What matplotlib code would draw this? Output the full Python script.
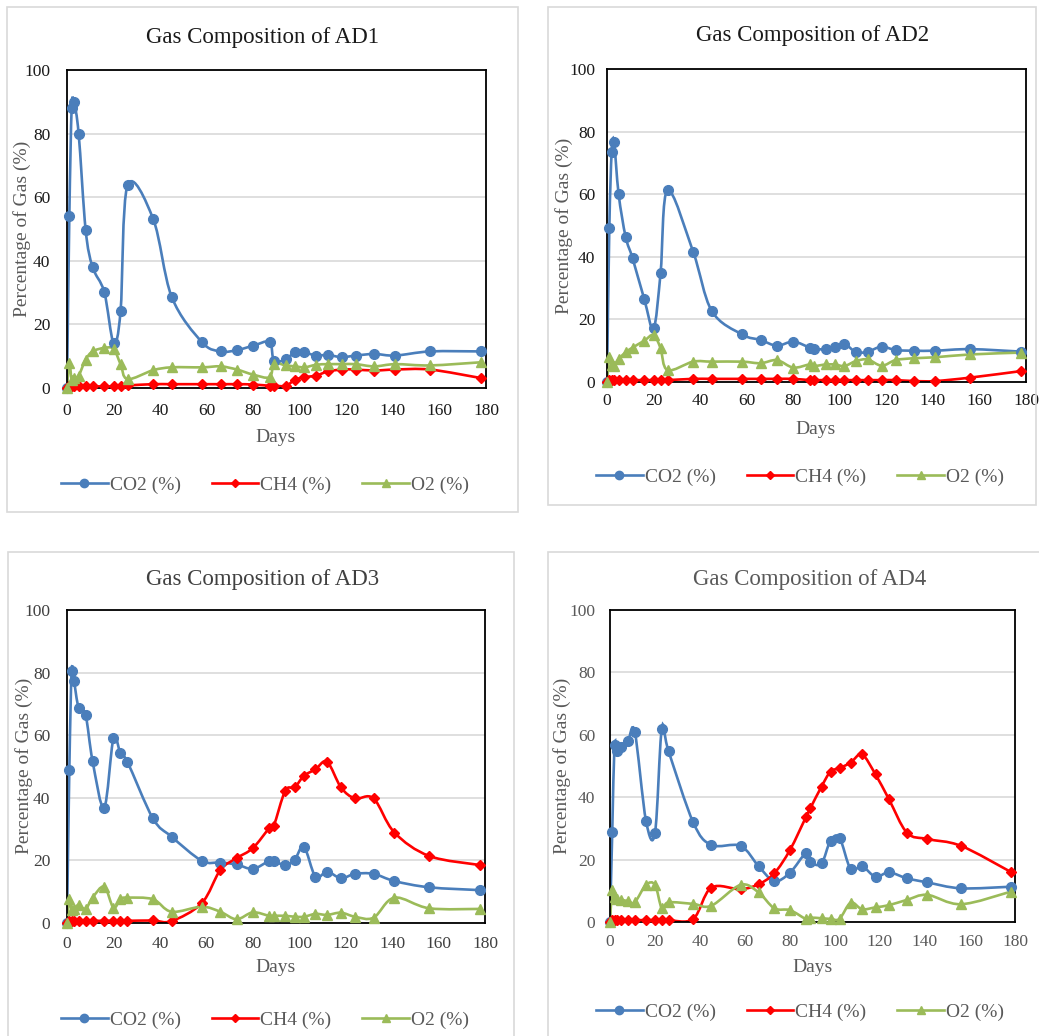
import numpy as np
import matplotlib.pyplot as plt
from matplotlib.path import Path
from matplotlib.patches import PathPatch, Rectangle
from matplotlib.lines import Line2D

plt.rcParams['font.family'] = ['Liberation Serif', 'DejaVu Serif']

W, H = 1039, 1036

# sampling days (same for all four digesters)
days = [0, 1, 2, 3, 5, 8, 11, 16, 20, 23, 26, 37, 45, 58, 66, 73, 80,
        87, 89, 94, 98, 102, 107, 112, 118, 124, 132, 141, 156, 178]

ad1_co2 = [0, 54, 88, 89.8, 80, 49.8, 38, 30.2, 14.2, 24.1, 63.7, 53.2, 28.6, 14.4, 11.5,
           11.9, 13.3, 14.4, 8.4, 9.1, 11.2, 11.2, 10.2, 10.4, 9.7, 10.2, 10.7, 10.2, 11.5, 11.5]
ad1_ch4 = [0, 0.5, 0.5, 0.5, 0.5, 0.5, 0.5, 0.5, 0.5, 0.6, 0.8, 1.2, 1.2, 1.2, 1.2,
           1.2, 1.1, 0.7, 0.7, 0.7, 2.6, 3.4, 3.9, 5.2, 5.8, 5.8, 5.5, 5.8, 5.8, 3.1]
ad1_o2 = [0, 7.9, 2.6, 3.2, 3.9, 8.9, 11.5, 12.6, 12.3, 7.5, 2.8, 5.6, 6.5, 6.5, 6.8,
          5.8, 4.2, 3.4, 7.7, 7.1, 6.8, 6.5, 7.3, 7.5, 7.5, 7.5, 6.8, 7.5, 7.1, 8.1]

ad2_co2 = [0, 49.3, 73.4, 76.8, 60, 46.4, 39.5, 26.5, 17.1, 34.7, 61.3, 41.6, 22.7, 15.2, 13.4,
           11.6, 12.9, 11, 10.5, 10.5, 11.1, 12.2, 9.5, 9.7, 11.3, 10.2, 10, 10, 10.5, 9.7]
ad2_ch4 = [0, 0.6, 0.6, 0.6, 0.6, 0.6, 0.6, 0.6, 0.6, 0.6, 0.6, 1.0, 1.0, 1.0, 1.0,
           1.0, 1.0, 0.6, 0.6, 0.6, 0.6, 0.6, 0.6, 0.6, 0.6, 0.6, 0.3, 0.3, 1.4, 3.5]
ad2_o2 = [0, 7.9, 5.5, 5.2, 7.3, 9.5, 11, 13.2, 15, 10.8, 3.8, 6.5, 6.5, 6.5, 6.0,
          7.0, 4.6, 5.6, 5.1, 5.6, 5.6, 5.1, 6.7, 7.2, 5.2, 7.0, 7.6, 7.9, 8.8, 9.4]

ad3_co2 = [0, 48.9, 80.6, 77.4, 68.8, 66.5, 51.8, 36.8, 59, 54.2, 51.5, 33.4, 27.6, 19.9, 19.3,
           18.7, 17.3, 19.8, 19.8, 18.5, 20.1, 24.4, 14.8, 16.4, 14.3, 15.7, 15.7, 13.4, 11.4, 10.5]
ad3_ch4 = [0, 0.7, 0.7, 0.7, 0.7, 0.7, 0.7, 0.7, 0.7, 0.7, 0.7, 0.8, 0.6, 6.3, 16.9,
           20.7, 23.9, 30.2, 31, 42.3, 43.3, 47, 49.1, 51.5, 43.3, 39.8, 39.8, 28.9, 21.4, 18.5]
ad3_o2 = [0, 7.6, 4.2, 4.4, 5.8, 4.5, 8.1, 11.6, 4.9, 7.7, 8.1, 7.6, 3.6, 5.2, 3.6,
          1.2, 3.4, 2.3, 2.3, 2.3, 2.0, 2.0, 2.9, 2.6, 3.3, 2.0, 1.7, 8.1, 4.7, 4.5]

ad4_co2 = [0, 29, 56.7, 54.9, 56, 58, 61, 32.4, 28.6, 61.9, 54.8, 31.9, 24.7, 24.4, 17.9,
           13.1, 15.8, 22, 19.1, 18.8, 26.1, 27, 16.9, 17.9, 14.5, 15.9, 14, 12.7, 10.8, 11.3]
ad4_ch4 = [0, 0.6, 0.6, 0.6, 0.6, 0.6, 0.6, 0.6, 0.6, 0.6, 0.6, 1.0, 11, 10.5, 12.1,
           15.6, 23.1, 33.5, 36.4, 43.4, 48.2, 49.3, 51.1, 53.7, 47.3, 39.3, 28.6, 26.6, 24.4, 16.1]
ad4_o2 = [0, 10.3, 7.9, 7.4, 7.1, 6.7, 6.3, 11.9, 11.9, 4.4, 6.3, 5.8, 5.2, 11.9, 9.5,
          4.4, 3.8, 1.0, 1.4, 1.2, 1.0, 1.0, 6.2, 4.1, 4.7, 5.4, 7.1, 8.7, 5.7, 9.7]

series_names = ['CO2 (%)', 'CH4 (%)', 'O2 (%)']
colors = ['#4A7EBB', '#FF0000', '#9BBB59']
markers = ['o', 'D', '^']
msizes = [7, 5, 7]


def px(x, y):
    return x / W, 1 - y / H


def smooth_path(x, y):
    # Catmull-Rom style bezier, like a spreadsheet "smoothed line"
    p = np.column_stack([x, y]).astype(float)
    n = len(p)
    verts = [p[0]]
    codes = [Path.MOVETO]
    for i in range(n - 1):
        p0 = p[i - 1] if i > 0 else p[i]
        p3 = p[i + 2] if i + 2 < n else p[i + 1]
        c1 = p[i] + (p[i + 1] - p0) / 6
        c2 = p[i + 1] - (p3 - p[i]) / 6
        verts += [c1, c2, p[i + 1]]
        codes += [Path.CURVE4] * 3
    return Path(verts, codes)


# panel layout in pixels: plot box, chart frame, text positions
panels = [
    dict(title='Gas Composition of AD1', data=[ad1_co2, ad1_ch4, ad1_o2],
         box=(67, 70, 486, 388), frame=(7, 7, 518, 512), tc=(263, 37),
         yl=(22, 229), xl=(276, 437), lg=(265, 485), txt='#1a1a1a', ypad=12, xpad=11),
    dict(title='Gas Composition of AD2', data=[ad2_co2, ad2_ch4, ad2_o2],
         box=(607, 69, 1026, 382), frame=(548, 7, 1036, 505), tc=(813, 35),
         yl=(564, 226), xl=(816, 430), lg=(800, 477), txt='#1a1a1a', ypad=8.5, xpad=8),
    dict(title='Gas Composition of AD3', data=[ad3_co2, ad3_ch4, ad3_o2],
         box=(67, 610, 485, 923), frame=(8, 552, 514, 1040), tc=(263, 579),
         yl=(24, 766), xl=(276, 968), lg=(265, 1020), txt='#404040', ypad=12, xpad=9),
    dict(title='Gas Composition of AD4', data=[ad4_co2, ad4_ch4, ad4_o2],
         box=(610, 610, 1015, 922), frame=(548, 552, 1045, 1040), tc=(810, 579),
         yl=(562, 766), xl=(813, 968), lg=(800, 1012), txt='#595959', ypad=10.5, xpad=9),
]

fig = plt.figure(figsize=(W / 100, H / 100), dpi=100)

for pn in panels:
    fx0, fy0, fx1, fy1 = pn['frame']
    fig.patches.append(Rectangle(px(fx0, fy1), (fx1 - fx0) / W, (fy1 - fy0) / H,
                                 transform=fig.transFigure, fill=False,
                                 edgecolor='#D9D9D9', lw=1.2))

    x0, y0, x1, y1 = pn['box']
    ax = fig.add_axes([x0 / W, 1 - y1 / H, (x1 - x0) / W, (y1 - y0) / H])
    ax.set_xlim(0, 180)
    ax.set_ylim(0, 100)
    ax.set_xticks(range(0, 181, 20))
    ax.set_yticks(range(0, 101, 20))
    ax.yaxis.grid(True, color='#D9D9D9', lw=1.2)
    ax.set_axisbelow(True)
    for s in ax.spines.values():
        s.set_color('black')
        s.set_linewidth(1.3)
    ax.tick_params(length=0, labelsize=12.5, labelcolor=pn['txt'])
    ax.tick_params(axis='x', pad=pn['xpad'])
    ax.tick_params(axis='y', pad=pn['ypad'])

    handles = []
    for vals, c, m, ms, name in zip(pn['data'], colors, markers, msizes, series_names):
        ax.add_patch(PathPatch(smooth_path(days, vals), fill=False, edgecolor=c, lw=1.9,
                               zorder=2))
        ax.plot(days, vals, linestyle='none', marker=m, ms=ms, color=c, zorder=3,
                clip_on=False)
        handles.append(Line2D([], [], color=c, lw=1.9, marker=m, ms=ms - 1))

    fig.text(*px(*pn['tc']), pn['title'], ha='center', va='center', fontsize=16.5,
             color=pn['txt'])
    fig.text(*px(*pn['yl']), 'Percentage of Gas (%)', ha='center', va='center',
             rotation=90, fontsize=14, color='#595959')
    fig.text(*px(*pn['xl']), 'Days', ha='center', va='center', fontsize=14,
             color='#595959')
    fig.legend(handles=handles, labels=series_names, loc='center',
               bbox_to_anchor=px(*pn['lg']), ncol=3, frameon=False, fontsize=14,
               handlelength=2.4, handletextpad=0.1, columnspacing=1.6,
               labelcolor='#595959')

fig.savefig('out.png', dpi=100)
